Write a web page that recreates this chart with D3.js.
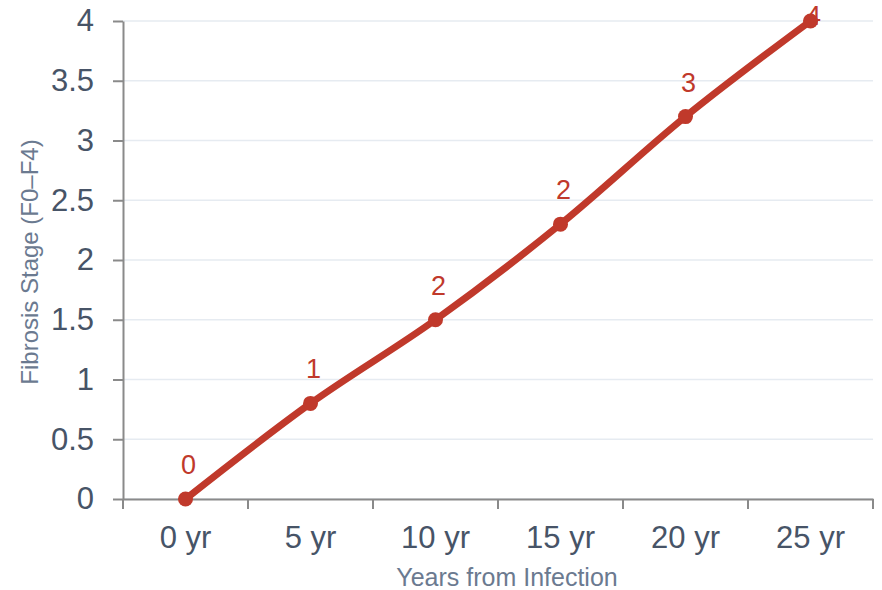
<!DOCTYPE html>
<html><head><meta charset="utf-8">
<script src="https://cdn.jsdelivr.net/npm/d3@7"></script>
<style>body{margin:0;background:#fff;} text{font-family:"Liberation Sans",Arial,sans-serif;}</style>
</head><body>
<svg id="chart" width="882" height="590"></svg>
<script>
const categories = ["0 yr","5 yr","10 yr","15 yr","20 yr","25 yr"];
const stageValues = [0, 0.8, 1.5, 2.3, 3.2, 4.0];
const stageLabels = ["0","1","2","2","3","4"];
const yTicks = [0,0.5,1,1.5,2,2.5,3,3.5,4];

const svg = d3.select("#chart");
const m = {left:123, right:9, top:21, bottom:91};
const W = 882, H = 590;
const x = d3.scaleBand().domain(categories).range([m.left, W - m.right]);
const y = d3.scaleLinear().domain([0,4]).range([H - m.bottom, m.top]);
const FONT = '"Liberation Sans",Arial,sans-serif';

// gridlines
svg.append("g").selectAll("line").data(yTicks).join("line")
  .attr("x1", m.left).attr("x2", W - m.right)
  .attr("y1", d => y(d)).attr("y2", d => y(d))
  .attr("stroke", "#e6ebf1").attr("stroke-width", 1.5);

// y axis
const yAxis = svg.append("g").attr("transform", `translate(${m.left},0)`)
  .call(d3.axisLeft(y).tickValues(yTicks).tickFormat(d => d).tickSize(10).tickPadding(19).tickSizeOuter(0));
yAxis.select(".domain").attr("stroke", "#8a8a8a").attr("stroke-width", 2);
yAxis.selectAll(".tick line").attr("stroke", "#8a8a8a").attr("stroke-width", 2);
yAxis.selectAll(".tick text").attr("fill", "#475467").attr("font-size", 31).style("font-family", FONT);

// x axis
const xAxis = svg.append("g").attr("transform", `translate(0,${H - m.bottom})`)
  .call(d3.axisBottom(x).tickSize(0).tickPadding(27).tickSizeOuter(0));
xAxis.select(".domain").attr("stroke", "#8a8a8a").attr("stroke-width", 2);
xAxis.selectAll(".tick text").attr("fill", "#475467").attr("font-size", 31).style("font-family", FONT);
const bounds = categories.map(c => x(c)).concat([x(categories[categories.length-1]) + x.bandwidth()]);
xAxis.append("g").selectAll("line").data(bounds).join("line")
  .attr("x1", d => d).attr("x2", d => d).attr("y1", 0).attr("y2", 10)
  .attr("stroke", "#8a8a8a").attr("stroke-width", 2);

// axis titles
svg.append("text").attr("x", 507).attr("y", 586).attr("text-anchor", "middle")
  .attr("fill", "#6b7a90").attr("font-size", 25).text("Years from Infection");
svg.append("text").attr("transform", `translate(38,${262}) rotate(-90)`).attr("text-anchor", "middle")
  .attr("fill", "#6b7a90").attr("font-size", 24).text("Fibrosis Stage (F0–F4)");

// line
const pts = categories.map((c,i) => ({c, v: stageValues[i], l: stageLabels[i]}));
const cx = d => x(d.c) + x.bandwidth()/2;
const line = d3.line().x(cx).y(d => y(d.v)).curve(d3.curveMonotoneX);
svg.append("g").selectAll("text").data(pts).join("text")
  .attr("x", d => cx(d) + 3).attr("y", d => Math.max(y(d.v) - 25, 25)).attr("text-anchor", "middle")
  .attr("fill", "#c0392b").attr("font-size", 27).text(d => d.l);
svg.append("path").datum(pts).attr("d", line)
  .attr("fill", "none").attr("stroke", "#c0392b").attr("stroke-width", 7)
  .attr("stroke-linejoin", "round").attr("stroke-linecap", "round");
svg.append("g").selectAll("circle").data(pts).join("circle")
  .attr("cx", cx).attr("cy", d => y(d.v)).attr("r", 7.5).attr("fill", "#c0392b");
</script>
</body></html>
